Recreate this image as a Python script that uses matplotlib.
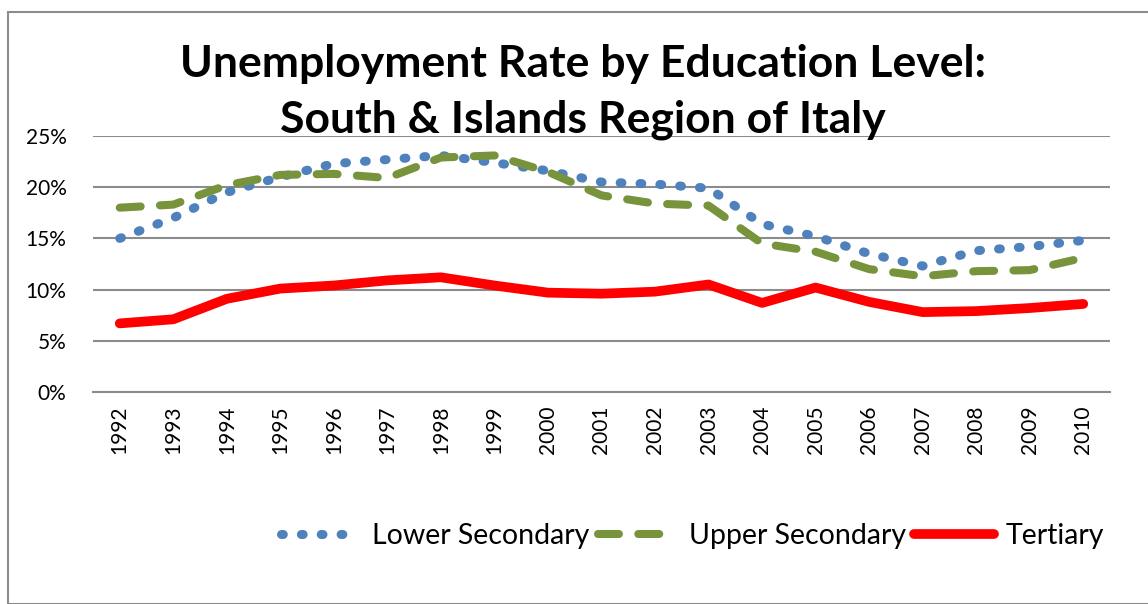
import matplotlib.pyplot as plt
from matplotlib.patches import Rectangle
from matplotlib.ticker import PercentFormatter

years = [str(y) for y in range(1992, 2011)]
lower_secondary = [15.0, 17.0, 19.5, 21.0, 22.3, 22.7, 23.1, 22.4, 21.6, 20.5, 20.3,
                   19.9, 16.4, 15.2, 13.5, 12.3, 13.8, 14.2, 14.8]
upper_secondary = [18.0, 18.3, 20.2, 21.2, 21.3, 20.9, 22.9, 23.1, 21.5, 19.2, 18.4,
                   18.2, 14.5, 13.7, 12.0, 11.3, 11.8, 11.9, 13.1]
tertiary = [6.7, 7.1, 9.1, 10.1, 10.4, 10.9, 11.2, 10.4, 9.7, 9.6, 9.8,
            10.5, 8.7, 10.2, 8.8, 7.8, 7.9, 8.2, 8.6]

plt.rcParams['font.family'] = ['Lato', 'DejaVu Sans']

W, H = 1148, 604
fig = plt.figure(figsize=(W/100, H/100), dpi=100)
ax = fig.add_axes([93/W, 1-392/H, (1110-93)/W, (392-136)/H])

x = range(len(years))
ax.plot(x, lower_secondary, color='#4F81BD', lw=6.5, dashes=(0.2, 2.0),
        dash_capstyle='round', label='Lower Secondary', zorder=3)
ax.plot(x, upper_secondary, color='#77933C', lw=5.8, dashes=(2.6, 2.4),
        dash_capstyle='round', label='Upper Secondary', zorder=3)
ax.plot(x, tertiary, color='#FF0000', lw=7, solid_capstyle='round',
        label='Tertiary', zorder=3)

ax.set_xlim(-0.5, len(years) - 0.5)
ax.set_ylim(0, 25)
ax.set_yticks([0, 5, 10, 15, 20, 25])
ax.yaxis.set_major_formatter(PercentFormatter(decimals=0))
ax.set_xticks(list(x))
ax.set_xticklabels(years, rotation=90)
ax.tick_params(axis='y', labelsize=15, length=0, pad=19)
ax.tick_params(axis='x', labelsize=15, length=0, pad=10)
ax.grid(axis='y', color='#8C8C8C', lw=1.5)
for s in ['top', 'right', 'left']:
    ax.spines[s].set_visible(False)
ax.spines['bottom'].set_color('#8C8C8C')
ax.spines['bottom'].set_linewidth(1.5)

# titel in twee regels, basislijn vast
fig.text(0.508, 1-77/H, 'Unemployment Rate by Education Level:',
         ha='center', va='baseline', fontsize=32, fontweight='bold')
fig.text(0.508, 1-133/H, 'South & Islands Region of Italy',
         ha='center', va='baseline', fontsize=32, fontweight='bold')

fig.legend(loc='center', bbox_to_anchor=(0.603, 0.113), ncol=3, frameon=False,
           fontsize=20.5, handlelength=2.8, columnspacing=0.3, handletextpad=0.4)

fig.patches.append(Rectangle((8/W, 0), 1.2, 1-12/H, transform=fig.transFigure,
                             fill=False, edgecolor='#8C8C8C', lw=1.5))

fig.savefig('out.png', dpi=100)
